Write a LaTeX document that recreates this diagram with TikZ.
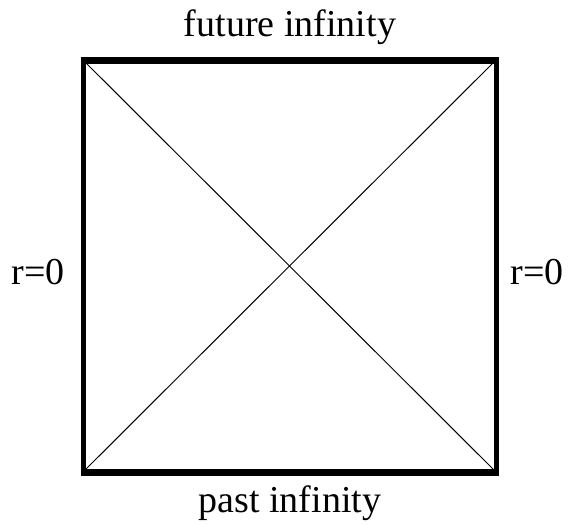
\documentclass[tikz,border=0pt]{standalone}
\usepackage{fontspec}
\setmainfont{Liberation Serif}
\begin{document}
\begin{tikzpicture}[x=1pt,y=-1pt,
  lbl/.style={font=\fontsize{38}{44}\selectfont, inner sep=0pt},
  thickedge/.style={line width=7pt},
  sideedge/.style={line width=5pt},
  diag/.style={line width=1pt}]
\useasboundingbox (0,0) rectangle (568,525);
\coordinate (tl) at (83,60);
\coordinate (tr) at (496,60);
\coordinate (bl) at (83,472);
\coordinate (br) at (496,472);
\draw[sideedge] (tl) -- (bl);
\draw[sideedge] (tr) -- (br);
\draw[thickedge] ([xshift=-2.5pt]tl) -- ([xshift=2.5pt]tr);
\draw[thickedge] ([xshift=-2.5pt]bl) -- ([xshift=2.5pt]br);
\draw[diag] (tl) -- (br);
\draw[diag] (tr) -- (bl);
\node[lbl] (future) at (290,27) {future infinity};
\node[lbl] (past) at (290,503) {past infinity};
\node[lbl] (rl) at (38,272) {r=0};
\node[lbl] (rr) at (537,272) {r=0};
\end{tikzpicture}
\end{document}
